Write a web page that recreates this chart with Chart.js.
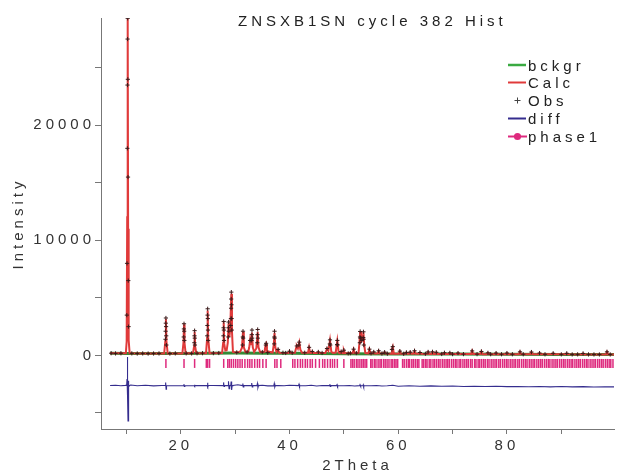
<!DOCTYPE html>
<html><head><meta charset="utf-8">
<script src="https://cdn.jsdelivr.net/npm/chart.js@4.4.1/dist/chart.umd.min.js"></script>
<style>html,body{margin:0;padding:0;background:#fff;}#wrap{width:620px;height:471px;position:relative;}</style>
</head><body><div id="wrap"><canvas id="c" width="620" height="471"></canvas></div>
<script>
// ---- texts ----
const chartTitle = 'ZNSXB1SN cycle 382 Hist';
const xAxisTitle = '2Theta';
const yAxisTitle = 'Intensity';
const seriesNames = ['bckgr', 'Calc', 'Obs', 'diff', 'phase1'];

// ---- background ----
const bgX = [7, 10, 15, 20, 25, 30, 35, 40, 45, 50, 60, 70, 80, 90, 99.8];
const bgY = [175, 170, 165, 170, 190, 200, 190, 180, 160, 150, 130, 110, 95, 85, 75];

// ---- calculated profile ----
const calcX = [7.0,9.9,10.05,10.15,10.24,10.32,10.42,10.6,13.0,16.95,17.17,17.27,17.37,17.6,20.3,20.5,20.6,20.7,20.9,22.25,22.45,22.55,22.65,22.85,24.65,24.85,24.95,25.05,25.3,27.6,27.8,27.9,28.0,28.2,28.45,28.65,28.8,28.95,29.1,29.3,29.42,29.6,30.1,30.5,30.9,31.25,31.45,31.6,31.9,32.4,32.6,32.75,32.9,33.1,33.25,33.5,33.9,34.15,34.3,34.6,35.4,35.6,35.7,35.85,36.9,37.1,37.25,37.4,37.6,37.9,38.1,39.8,40.0,40.2,41.0,41.25,41.35,41.55,41.8,42.0,42.3,43.4,43.6,43.8,44.0,44.2,44.4,45.1,45.3,45.5,46.6,46.9,47.15,47.45,47.7,48.0,48.5,48.8,49.05,49.3,49.5,49.7,49.85,50.0,50.2,51.6,51.8,52.0,52.7,52.85,53.0,53.15,53.3,53.45,53.6,53.75,53.95,54.5,54.7,54.9,55.3,55.5,55.7,56.2,56.4,56.6,57.3,57.5,57.7,58.7,58.85,59.0,59.2,60.1,60.3,60.5,61.3,61.5,61.7,62.0,62.2,62.4,62.8,63.0,63.2,63.8,64.0,64.2,65.3,65.5,65.7,66.1,66.3,66.5,66.8,67.0,67.2,68.3,68.5,68.7,69.3,69.5,69.7,70.8,71.0,71.2,73.4,73.6,73.8,75.1,75.3,75.5,76.3,76.5,76.7,77.8,78.0,78.2,79.8,80.0,80.2,82.2,82.4,82.6,84.3,84.5,84.7,85.8,86.0,86.2,88.3,88.5,88.7,90.8,91.0,91.2,93.8,94.0,94.2,98.2,98.4,98.6,99.8];
const calcY = [180,175,1200,12000,29250,11000,1300,180,170,165,1300,3150,1200,165,170,1100,2700,1050,175,180,800,2050,780,185,190,1500,3900,1450,195,200,1100,2870,1000,420,450,1100,2790,1600,2300,5350,2100,300,250,280,300,650,2040,700,300,300,700,1300,900,1980,700,300,600,2040,700,280,300,900,1000,350,250,900,1960,700,300,500,230,200,350,210,230,700,800,600,1110,500,230,220,680,220,210,340,200,200,300,200,200,580,400,1310,300,220,250,1260,250,190,330,180,180,440,180,180,520,180,200,1000,2040,1200,1300,1300,2000,900,200,170,520,170,165,300,165,160,380,160,155,280,155,150,500,730,150,140,350,140,140,260,140,140,280,140,140,380,140,135,250,135,130,290,130,130,300,130,130,260,125,120,230,120,120,220,115,115,200,115,110,380,110,110,330,105,105,220,105,100,200,100,100,200,100,100,300,100,95,280,95,95,200,95,90,180,90,90,180,88,85,170,85,80,300,80,80];

// ---- observed points ----
const obsX = [7.2,8,9,11,12,13,14,15,16,18,19,21,22,23,24,26,27,30.3,32.2,35,36,38.8,39.3,40.5,42.8,44.2,45.3,46,49.5,50.8,51.2,52.3,55,55.5,57,57.5,58,61,61.5,62.2,64,65,68,68.5,69.5,70,71,72,74.5,76.5,77,78,79,80,81,83,86,87,88.5,90,91,92,93,94,95,96,97,99,
 10.24,10.22,10.2,10.18,10.12,10.08,10.27,10.3,10.35,10.4,
 17.27,17.25,17.22,17.19,17.3,17.33,17.36,
 20.6,20.58,20.55,20.63,20.66,
 22.55,22.53,22.5,22.58,22.61,
 24.95,24.93,24.9,24.87,24.98,25.01,25.04,
 27.9,27.88,27.85,27.93,27.96,
 28.8,28.78,28.75,28.83,
 29.3,29.28,29.26,29.23,29.2,29.33,29.36,29.39,
 31.45,31.42,31.48,31.38,
 33.1,33.08,33.05,33.13,32.75,
 34.15,34.12,34.18,34.09,
 35.7,35.65,37.25,37.22,37.28,37.19,37.9,40.0,41.35,41.8,41.75,43.6,46.9,47.45,47.42,47.5,48.8,48.77,48.84,50.0,51.8,
 53.0,52.97,52.94,53.04,53.3,53.6,53.57,53.63,53.67,
 54.7,56.4,59.0,58.85,60.3,63.0,65.5,66.3,67.0,73.6,75.3,82.4,84.5,98.4];
const obsY = [190,170,185,175,165,170,160,165,170,160,175,180,170,185,190,195,205,260,290,290,240,230,210,220,230,340,300,210,330,170,190,200,180,300,160,280,150,140,260,280,250,140,120,230,220,110,200,110,110,220,105,200,100,200,100,100,200,95,180,90,180,85,90,170,85,85,80,80,
 29300,27500,23500,18000,8000,3500,24000,15500,6500,2500,
 3250,2800,2100,1400,2500,1700,900,
 2750,2300,1600,2100,1300,
 2150,1700,1100,1500,900,
 4050,3500,2600,1700,3200,2200,1300,
 2950,2400,1700,2200,1300,
 2900,2400,1600,2100,
 5500,4900,4100,3200,2600,4400,3200,2200,
 2100,1600,1500,900,
 2200,1800,1300,1500,1300,
 2250,1800,1500,1100,
 1050,900,2100,1600,1500,1000,520,360,820,1150,900,700,600,1350,1000,900,1300,950,900,450,540,
 2080,1600,1100,1500,1300,2050,1550,1400,900,
 540,400,760,520,370,400,300,310,270,390,340,310,290,310];

// ---- difference (obs - calc) ----
const diffX = [7.0,8,9,9.8,10.05,10.12,10.18,10.24,10.3,10.36,10.45,10.6,10.8,12,13.5,15,16.5,17.15,17.22,17.3,17.38,19,20.52,20.58,20.66,20.75,22.47,22.53,22.6,22.7,24.85,24.92,25.0,25.1,26,27.82,27.88,27.96,28.05,28.7,28.78,28.88,29.0,29.2,29.27,29.36,29.45,29.6,30.5,31.35,31.42,31.5,31.6,32,32.98,33.05,33.15,33.25,34.02,34.1,34.2,34.3,35,36,37.12,37.2,37.3,37.4,38,39,40,41.65,41.75,41.85,41.95,43,44,45,46,47.35,47.42,47.5,47.6,48.65,48.75,48.85,48.95,50,51,52,52.9,52.97,53.05,53.15,53.5,53.57,53.65,53.75,55,56,57,58,59,60,62,64,66,68,70,72,74,76,78,80,82,84,86,88,90,92,94,96,98,99.8];
const diffY = [30,50,10,40,60,600,2500,-850,-3050,450,-80,40,70,10,50,0,30,30,300,-300,20,10,20,150,-60,20,10,100,-40,20,20,280,-100,30,30,20,300,-60,20,20,400,-250,40,20,380,-350,20,30,90,20,200,-100,20,30,20,250,-100,20,20,200,-150,20,50,0,20,200,-100,20,30,10,50,20,150,-50,20,10,50,-10,30,20,150,-60,20,20,100,-50,20,10,30,-10,20,100,-50,10,10,90,-70,10,10,30,-10,10,50,-30,10,-30,0,-40,-10,-50,-30,-60,-40,-70,-50,-80,-50,-90,-60,-90,-70,-100,-80,-90];

// ---- phase1 reflection positions ----
const phaseTicks = [17.27,20.6,22.55,24.7,24.95,25.3,27.9,28.65,28.95,29.3,29.7,30.1,30.5,30.9,31.3,31.8,32.3,32.7,33.1,33.6,34.1,34.5,35.1,35.7,37.3,37.7,38.4,40.6,41.0,41.5,42.0,42.4,42.9,43.3,43.8,44.2,44.8,45.5,46.1,46.5,47.0,47.5,47.9,48.3,48.8,50.0,51.3,51.6,51.9,52.3,52.6,52.95,53.3,53.6,53.9,54.2,54.95,55.2,55.6,55.9,56.3,56.65,56.9,57.3,57.6,57.95,58.3,58.7,59.0,59.35,59.6,59.9,60.8,61.1,61.5,61.85,62.1,62.5,62.8,63.15,63.5,63.8,64.4,64.7,65.05,65.3,65.7,66.0,66.4,66.7,67.05,67.4,67.7,68.1,68.45,68.8,69.1,69.4,69.8,70.15,70.5,70.8,71.2,71.5,71.9,72.25,72.6,72.9,73.3,73.6,74.05,74.3,74.7,75.0,75.35,75.7,76.0,76.4,76.7,77.1,77.45,77.8,78.1,78.5,78.8,79.2,79.55,79.9,80.2,80.6,80.95,81.3,81.6,82.0,82.3,82.7,83.05,83.4,83.7,84.1,84.45,84.8,85.1,85.5,85.85,86.2,86.5,86.9,87.25,87.6,87.9,88.3,88.65,89.0,89.3,89.7,90.05,90.4,90.7,91.1,91.45,91.8,92.1,92.5,92.85,93.2,93.5,93.9,94.25,94.6,94.9,95.3,95.65,96.0,96.3,96.7,97.05,97.4,97.7,98.1,98.45,98.8,99.1,99.5];

// ---- tick values and labels ----
const xTickValues = [10, 20, 30, 40, 50, 60, 70, 80, 90];
const xTickLabels = [20, 40, 60, 80];
const yTickValues = [-5000, 0, 5000, 10000, 15000, 20000, 25000];
const yTickLabels = [0, 10000, 20000];

// ---- plotting offsets / styles (not data) ----
const DIFF_OFFSET = -2650;
const TICK_LEVEL = -700;
const COLORS = { bckgr: '#338a36', calc: '#e03a3a', obs: '#3a1a1a', diff: '#352d8e', phase: '#de2a7e' };
const FONT = '"Liberation Sans", Arial, sans-serif';
const SPACING = '4px';

const pts = (xs, ys, off = 0) => xs.map((x, i) => ({ x, y: ys[i] + off }));

Chart.defaults.font.family = FONT;
Chart.defaults.font.size = 15;
Chart.defaults.color = '#333';

const spacingPlugin = {
  id: 'spacing',
  beforeUpdate(chart) { chart.ctx.letterSpacing = SPACING; },
  beforeDraw(chart) { chart.ctx.letterSpacing = SPACING; }
};

const titleLegendPlugin = {
  id: 'titleLegend',
  afterDraw(chart) {
    const ctx = chart.ctx;
    ctx.save();
    ctx.letterSpacing = SPACING;
    ctx.font = '15px ' + FONT;
    ctx.fillStyle = '#222';
    ctx.textAlign = 'left';
    ctx.textBaseline = 'alphabetic';
    ctx.fillText(chartTitle, 238, 25.5);
    const x0 = 508, x1 = 526, xm = 517.5, tx = 528;
    const rowY = [65, 82.5, 100.5, 118.5, 136.5];
    const draws = [
      () => { ctx.strokeStyle = '#3aaa42'; ctx.lineWidth = 2.5; ctx.beginPath(); ctx.moveTo(x0, rowY[0]); ctx.lineTo(x1, rowY[0]); ctx.stroke(); },
      () => { ctx.strokeStyle = COLORS.calc; ctx.lineWidth = 2; ctx.beginPath(); ctx.moveTo(x0, rowY[1]); ctx.lineTo(x1, rowY[1]); ctx.stroke(); },
      () => { ctx.strokeStyle = '#444'; ctx.lineWidth = 1; ctx.beginPath(); ctx.moveTo(xm - 3, rowY[2]); ctx.lineTo(xm + 3, rowY[2]); ctx.moveTo(xm, rowY[2] - 3); ctx.lineTo(xm, rowY[2] + 3); ctx.stroke(); },
      () => { ctx.strokeStyle = COLORS.diff; ctx.lineWidth = 2; ctx.beginPath(); ctx.moveTo(x0, rowY[3]); ctx.lineTo(x1, rowY[3]); ctx.stroke(); },
      () => { ctx.strokeStyle = COLORS.phase; ctx.fillStyle = COLORS.phase; ctx.lineWidth = 2; ctx.beginPath(); ctx.moveTo(x0, rowY[4]); ctx.lineTo(x1 + 1, rowY[4]); ctx.stroke(); ctx.beginPath(); ctx.arc(xm, rowY[4], 3.6, 0, Math.PI * 2); ctx.fill(); }
    ];
    seriesNames.forEach((name, i) => {
      draws[i]();
      ctx.fillStyle = '#222';
      ctx.fillText(name, tx, rowY[i] + 5.5);
    });
    ctx.restore();
  }
};

new Chart(document.getElementById('c'), {
  type: 'scatter',
  data: {
    datasets: [
      { label: seriesNames[2], data: pts(obsX, obsY), order: 0, showLine: false,
        pointStyle: 'cross', pointRadius: 2.1, pointBorderWidth: 1, borderColor: COLORS.obs, backgroundColor: COLORS.obs },
      { label: seriesNames[1], data: pts(calcX, calcY), order: 1, showLine: true, pointRadius: 0,
        borderColor: COLORS.calc, borderWidth: 2, tension: 0 },
      { label: seriesNames[0], data: pts(bgX, bgY), order: 2, showLine: true, pointRadius: 0,
        borderColor: COLORS.bckgr, borderWidth: 3 },
      { label: seriesNames[3], data: pts(diffX, diffY, DIFF_OFFSET), order: 3, showLine: true, pointRadius: 0,
        borderColor: COLORS.diff, borderWidth: 1.1 },
      { label: seriesNames[4], data: phaseTicks.map(x => ({ x, y: TICK_LEVEL })), order: 4, showLine: false,
        pointStyle: 'line', rotation: 90, pointRadius: 4.5, pointBorderWidth: 1.5, borderColor: COLORS.phase, backgroundColor: COLORS.phase }
    ]
  },
  options: {
    responsive: false,
    animation: false,
    devicePixelRatio: 1,
    layout: { padding: { top: 18, right: 0, left: 0, bottom: 0 } },
    plugins: { legend: { display: false }, title: { display: false }, tooltip: { enabled: false } },
    scales: {
      x: {
        type: 'linear', min: 5.33, max: 99.69,
        afterFit(s) { s.height = 42; },
        afterBuildTicks(s) { s.ticks = xTickValues.map(v => ({ value: v })); },
        border: { display: true, color: '#777', width: 1 },
        grid: { display: true, drawOnChartArea: false, drawTicks: true, tickLength: 5, tickColor: '#777' },
        ticks: { autoSkip: false, maxRotation: 0, padding: 3, color: '#333',
          callback: v => xTickLabels.includes(v) ? String(v) : '' },
        title: { display: true, text: xAxisTitle, color: '#333', font: { size: 15, lineHeight: 1 }, padding: { top: 0, bottom: -2 } }
      },
      y: {
        type: 'linear', min: -6400, max: 29330,
        afterFit(s) { s.width = 101; },
        afterBuildTicks(s) { s.ticks = yTickValues.map(v => ({ value: v })); },
        border: { display: true, color: '#777', width: 1 },
        grid: { display: true, drawOnChartArea: false, drawTicks: true, tickLength: 6, tickColor: '#777' },
        ticks: { autoSkip: false, padding: 0, color: '#333',
          callback: v => yTickLabels.includes(v) ? String(v) : '' },
        title: { display: true, text: yAxisTitle, color: '#333', font: { size: 15, lineHeight: 1 }, padding: { top: 11, bottom: 0 } }
      }
    }
  },
  plugins: [spacingPlugin, titleLegendPlugin]
});
</script></body></html>
